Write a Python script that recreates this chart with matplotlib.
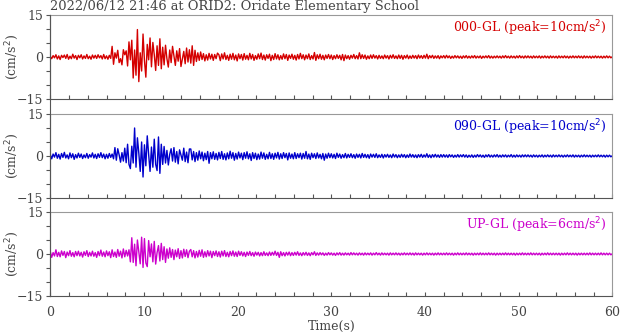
import numpy as np
import matplotlib
matplotlib.use("Agg")
from matplotlib import pyplot as plt
from matplotlib.lines import Line2D

plt.rcParams['font.family'] = ['DejaVu Serif']

dt = 0.15
title = "2022/06/12 21:46 at ORID2: Oridate Elementary School"
channels = ["000-GL", "090-GL", "UP-GL"]
peaks = [10, 10, 6]
colors = ["#d40000", "#0000cc", "#cc00cc"]
xticklabels = ["0", "10", "20", "30", "40", "50", "60"]

# acceleration (cm/s^2), every 0.15 s
ns_acc = [
    0.2, -0.6, 0.5, -0.3, 0.8, -0.7, 0.4, -0.9, 0.6, -0.2, 0.7, -0.5, 0.9, -0.8, 0.3, -0.6, 1.0, -0.4, 0.5, -0.9,
    0.6, -0.3, 0.8, -0.7, 0.4, -0.5, 0.9, -0.6, 0.3, -0.8, 0.7, -0.4, 0.6, -0.5, 0.8, -0.3, 0.5, -0.7, 0.9, -0.6,
    0.4, -0.8, 0.6, -0.5, 3.8, -2.6, 1.5, -0.4, 2.4, -2.0, -0.6, -2.8, 2.6, 0.8, 2.2, -3.2, 5.4, -1.0, 6.0, -7.5,
    2.5, -6.5, 9.8, -8.8, 1.5, -5.0, 8.2, -1.2, -7.2, 4.5, -1.0, 6.8, -3.5, 5.2, 0.8, -4.8, 4.0, -3.0, 6.5, -4.2,
    3.5, -2.8, 4.2, -0.6, -3.6, 2.5, -2.0, 3.8, 0.4, -3.0, 2.2, -1.5, 3.0, -3.4, -0.8, 2.0, -2.4, 3.2, -1.8, 2.6,
    -2.2, 4.0, -3.0, 2.4, -1.6, 1.5, -1.2, 1.8, -0.9, 1.2, -1.4, 0.8, -1.1, 1.3, -0.7, 1.0, -1.2, 0.9, -0.6, 1.4,
    0.8, -1.3, 1.1, -0.7, 1.5, -0.9, 0.6, -1.2, 1.0, -0.8, 1.3, -1.0, 0.7, -1.4, 1.1, -0.6, 0.9, -1.1, 1.2, -0.8,
    0.6, -1.0, 1.3, -0.7, 0.9, -1.2, 0.5, -0.8, 1.1, -0.6, 1.4, -0.9, 0.7, -1.1, 0.8, -0.5, 1.0, -1.3, 0.6, -0.9,
    1.2, -0.7, 0.8, -1.0, 0.5, -0.8, 1.1, -0.6, 0.9, -1.2, 0.7, -0.5, 1.0, -0.8, 0.6, -1.1, 0.9, -0.7, 1.3, -0.6,
    0.8, -1.0, 0.7, -0.6, 1.1, -0.9, 0.5, -0.7, 1.6, -1.2, 0.8, -0.6, 1.0, -0.8, 0.6, -1.0, 0.7, -0.5, 0.9, -0.6,
    0.7, -0.9, 0.5, -0.6, 0.8, -0.5, 0.6, -1.0, 0.9, -1.3, 0.7, -0.6, 0.5, -0.8, 0.6, -0.4, 0.9, -0.6, 0.5, -0.7,
    1.5, -0.6, 0.8, -0.5, 0.7, -0.8, 0.4, -0.6, 0.7, -0.5, 0.8, -0.4, 0.5, -0.7, 0.6, -0.5, 0.4, -0.6, 0.7, -0.4,
    0.5, -0.7, 0.6, -0.4, 0.8, -0.5, 0.4, -0.6, 0.7, -0.5, 0.6, -0.8, 0.5, -0.4, 0.7, -0.6, 0.4, -0.5, 0.6, -0.4,
    0.5, -0.6, 0.7, -0.4, 0.5, -0.5, 0.6, -0.4, 1.0, -0.6, 0.5, -0.3, 0.6, -0.5, 0.4, -0.4, 0.5, -0.6, 0.4, -0.3,
    0.5, -0.4, 0.6, -0.3, 0.4, -0.5, 0.3, -0.4, 0.5, -0.3, 0.4, -0.4, 0.3, -0.5, 0.4, -0.3, 0.5, -0.4, 0.3, -0.4,
    0.4, -0.3, 0.5, -0.4, 0.3, -0.3, 0.4, -0.5, 0.3, -0.3, 0.4, -0.3, 0.5, -0.4, 0.3, -0.4, 0.3, -0.3, 0.4, -0.3,
    0.3, -0.4, 0.4, -0.3, 0.5, -0.3, 0.3, -0.4, 0.4, -0.3, 0.3, -0.4, 0.4, -0.3, 0.5, -0.3, 0.3, -0.4, 0.4, -0.3,
    0.4, -0.3, 0.3, -0.4, 0.4, -0.3, 0.3, -0.3, 0.4, -0.4, 0.3, -0.3, 0.4, -0.3, 0.3, -0.4, 0.4, -0.3, 0.3, -0.3,
    0.3, -0.4, 0.4, -0.3, 0.3, -0.3, 0.4, -0.3, 0.3, -0.4, 0.3, -0.3, 0.4, -0.3, 0.3, -0.3, 0.4, -0.3, 0.3, -0.4,
    0.4, -0.3, 0.3, -0.3, 0.3, -0.4, 0.3, -0.3, 0.4, -0.3, 0.3, -0.3, 0.3, -0.4, 0.3, -0.3, 0.4, -0.3, 0.3, -0.3,
    0.1,
]
ew_acc = [
    0.5, -1.0, 0.7, -0.4, 1.2, -0.8, 0.6, -1.1, 0.9, -0.5, 1.3, -0.7, 0.4, -1.0, 1.1, -0.6, 0.8, -1.2, 0.5, -0.7,
    1.0, -0.5, 0.7, -0.9, 0.4, -0.6, 0.9, -0.8, 0.5, -0.4, 1.1, -0.7, 0.6, -0.9, 0.8, -0.5, 1.2, -0.6, 0.7, -1.0,
    0.6, -0.8, 0.9, -0.5, 0.7, -1.0, 3.0, -1.5, 2.6, 0.4, -2.2, 1.2, -1.8, 2.8, -2.4, 4.2, -3.0, -4.5, 3.5, -2.5,
    10.0, -4.0, 6.5, 1.0, -5.5, 5.0, -7.5, 4.0, -3.5, 7.2, 0.5, -5.5, 3.2, -4.0, 6.0, -3.0, -5.2, 6.8, -6.2, 4.2,
    -3.0, 3.4, -2.5, 2.0, -3.2, 0.6, 2.6, -1.8, 3.0, -2.2, 1.6, -2.8, 2.2, 0.3, -1.5, 2.8, -2.0, 1.4, -2.4, 2.5,
    2.5, -1.4, 1.6, -2.0, 1.2, -1.5, 1.8, -1.0, 1.4, -1.7, 1.0, -1.3, 1.6, -2.6, 1.2, -1.0, 1.5, -1.2, 0.9, -1.4,
    1.3, -0.9, 1.6, -1.2, 0.8, -1.4, 1.1, -1.0, 1.7, -0.8, 1.2, -1.5, 0.9, -1.1, 1.4, -0.7, 1.0, -1.3, 1.2, -0.8,
    1.5, -1.0, 0.8, -1.6, 1.2, -0.9, 1.0, -1.3, 0.7, -1.1, 1.4, -0.8, 1.1, -1.2, 0.6, -1.0, 1.3, -0.9, 0.8, -1.2,
    1.0, -0.7, 1.3, -1.1, 0.8, -0.9, 1.2, -0.6, 0.9, -1.4, 1.1, -0.8, 0.7, -1.0, 1.2, -0.9, 0.8, -0.6, 1.0, -1.1,
    0.9, -0.8, 1.6, -1.0, 0.7, -1.2, 1.0, -0.6, 0.8, -0.9, 1.1, -0.7, 0.6, -1.0, 0.9, -1.5, 0.7, -0.8, 1.0, -0.6,
    0.8, -0.7, 0.6, -0.9, 1.0, -0.5, 0.7, -0.8, 0.5, -0.6, 0.9, -0.7, 0.6, -0.5, 0.8, -0.6, 0.5, -0.8, 0.7, -0.5,
    0.6, -0.7, 0.9, -0.5, 0.6, -0.6, 0.5, -0.8, 0.7, -0.4, 0.6, -0.5, 0.8, -0.6, 0.4, -0.5, 0.6, -0.7, 0.5, -0.4,
    0.6, -0.5, 0.4, -0.6, 0.7, -0.4, 0.5, -0.6, 0.4, -0.5, 0.6, -0.4, 0.5, -0.6, 0.4, -0.5, 0.7, -0.4, 0.5, -0.5,
    0.4, -0.6, 0.5, -0.4, 0.6, -0.5, 0.4, -0.4, 0.8, -0.5, 0.4, -0.6, 0.5, -0.4, 0.6, -0.4, 0.4, -0.5, 0.5, -0.4,
    0.5, -0.4, 0.4, -0.5, 0.5, -0.3, 0.4, -0.5, 0.3, -0.4, 0.5, -0.4, 0.4, -0.3, 0.5, -0.4, 0.4, -0.5, 0.3, -0.4,
    0.4, -0.5, 0.3, -0.4, 0.5, -0.3, 0.4, -0.4, 0.3, -0.5, 0.4, -0.3, 0.5, -0.4, 0.3, -0.4, 0.4, -0.3, 0.5, -0.4,
    0.3, -0.4, 0.4, -0.3, 0.4, -0.4, 0.3, -0.3, 0.5, -0.4, 0.3, -0.4, 0.4, -0.3, 0.3, -0.4, 0.4, -0.3, 0.4, -0.3,
    0.4, -0.3, 0.3, -0.4, 0.4, -0.3, 0.3, -0.4, 0.3, -0.3, 0.4, -0.4, 0.3, -0.3, 0.4, -0.3, 0.3, -0.4, 0.4, -0.3,
    0.3, -0.3, 0.4, -0.3, 0.3, -0.4, 0.3, -0.3, 0.4, -0.3, 0.3, -0.3, 0.4, -0.4, 0.3, -0.3, 0.3, -0.4, 0.3, -0.3,
    0.4, -0.3, 0.3, -0.3, 0.3, -0.4, 0.3, -0.3, 0.3, -0.3, 0.4, -0.3, 0.3, -0.3, 0.3, -0.4, 0.3, -0.3, 0.3, -0.3,
    0.1,
]
ud_acc = [
    0.8, -1.2, 0.5, -0.7, 1.5, -0.9, 0.6, -1.0, 1.1, -0.5, 0.9, -1.3, 0.7, -0.6, 1.2, -0.8, 0.5, -1.0, 0.9, -0.6,
    1.0, -0.7, 0.6, -1.1, 0.8, -0.5, 1.2, -0.9, 0.6, -0.7, 1.0, -0.8, 0.5, -1.2, 0.9, -0.6, 1.4, -0.8, 0.7, -1.0,
    1.1, -0.6, 0.8, -1.3, 1.5, -0.9, 0.7, -1.2, 1.6, -0.8, 1.0, -1.4, 1.8, -1.0, 1.3, -0.7, 1.5, -2.8, 5.8, -3.0,
    3.5, -4.2, 5.0, 0.8, -3.5, 6.0, -4.8, 5.5, -3.2, -4.5, 4.8, -1.0, 3.6, -2.8, 4.5, -3.6, 0.5, 3.0, -2.5, 3.8,
    -2.0, 2.6, -3.0, 1.8, -1.5, 2.2, -1.2, 1.6, -2.0, 1.4, -1.0, 1.9, -1.6, 1.2, -1.4, 1.7, -0.9, 1.5, -1.3, 1.0,
    1.6, -1.0, 1.2, -1.4, 0.9, -1.1, 1.3, -0.8, 1.5, -1.2, 0.8, -1.0, 1.2, -0.7, 1.0, -1.3, 0.9, -0.6, 1.1, -0.9,
    0.8, -1.1, 1.0, -0.7, 1.2, -0.9, 0.6, -1.0, 0.9, -0.6, 1.1, -0.8, 0.7, -0.9, 1.0, -0.5, 0.8, -0.7, 0.6, -0.9,
    0.7, -0.5, 0.9, -0.6, 0.5, -0.8, 0.7, -0.4, 0.6, -0.7, 0.5, -0.6, 0.8, -0.5, 0.4, -0.6, 0.7, -0.5, 0.6, -0.4,
    1.0, -0.5, 0.6, -1.2, 0.8, -0.6, 0.5, -0.7, 0.6, -0.4, 0.7, -0.6, 0.5, -0.5, 0.6, -0.4, 0.8, -0.5, 0.4, -0.6,
    0.5, -0.4, 0.6, -0.5, 0.4, -0.6, 0.5, -0.3, 0.8, -0.5, 0.4, -0.4, 0.5, -0.3, 0.4, -0.5, 0.3, -0.4, 0.5, -0.3,
    0.4, -0.4, 0.3, -0.5, 0.4, -0.3, 0.5, -0.4, 0.3, -0.4, 0.4, -0.3, 0.3, -0.4, 0.5, -0.3, 0.4, -0.3, 0.3, -0.4,
    0.4, -0.3, 0.3, -0.4, 0.4, -0.3, 0.3, -0.3, 0.4, -0.4, 0.3, -0.3, 0.5, -0.3, 0.3, -0.4, 0.4, -0.3, 0.3, -0.3,
    0.3, -0.4, 0.4, -0.3, 0.3, -0.3, 0.4, -0.3, 0.3, -0.4, 0.3, -0.3, 0.4, -0.3, 0.3, -0.3, 0.4, -0.3, 0.3, -0.4,
    0.4, -0.3, 0.3, -0.3, 0.3, -0.4, 0.3, -0.3, 0.4, -0.3, 0.3, -0.3, 0.3, -0.4, 0.3, -0.3, 0.4, -0.3, 0.3, -0.3,
    0.3, -0.3, 0.4, -0.3, 0.3, -0.3, 0.3, -0.4, 0.3, -0.3, 0.4, -0.3, 0.3, -0.3, 0.3, -0.3, 0.4, -0.3, 0.3, -0.3,
    0.3, -0.4, 0.3, -0.3, 0.3, -0.3, 0.4, -0.3, 0.3, -0.3, 0.3, -0.3, 0.4, -0.3, 0.3, -0.3, 0.3, -0.4, 0.3, -0.3,
    0.3, -0.3, 0.3, -0.3, 0.4, -0.3, 0.3, -0.3, 0.3, -0.3, 0.3, -0.4, 0.3, -0.3, 0.3, -0.3, 0.4, -0.3, 0.3, -0.3,
    0.3, -0.3, 0.4, -0.3, 0.3, -0.3, 0.3, -0.3, 0.3, -0.4, 0.3, -0.3, 0.3, -0.3, 0.4, -0.3, 0.3, -0.3, 0.3, -0.3,
    0.3, -0.3, 0.3, -0.4, 0.3, -0.3, 0.3, -0.3, 0.4, -0.3, 0.3, -0.3, 0.3, -0.3, 0.3, -0.4, 0.3, -0.3, 0.3, -0.3,
    0.3, -0.3, 0.3, -0.3, 0.4, -0.3, 0.3, -0.3, 0.3, -0.3, 0.3, -0.3, 0.4, -0.3, 0.3, -0.3, 0.3, -0.3, 0.3, -0.3,
    0.1,
]
traces = [ns_acc, ew_acc, ud_acc]

textc = "#444444"
dark = "#555555"
light = "#999999"

fig = plt.figure(figsize=(6.2, 3.34), dpi=100)
left, width = 50.3 / 620, 562 / 620
tops = [15, 114, 212]   # px from top
h = 84

axes = []
for i in range(3):
    ax = fig.add_axes([left, 1 - (tops[i] + h) / 334, width, h / 334])
    acc = np.array(traces[i])
    t = np.arange(len(acc)) * dt
    ax.plot(t, acc, color=colors[i], lw=1.0)
    ax.set_xlim(0, 60)
    ax.set_ylim(-15, 15)
    ax.set_yticks([-15, 0, 15])
    ax.set_yticks([-10, -5, 5, 10], minor=True)
    ax.set_xticks(np.arange(0, 61, 10))
    ax.set_xticks(np.arange(0, 61, 2), minor=True)
    ax.tick_params(axis='y', which='both', direction='out', length=3, width=0.8,
                   color=dark, labelcolor=textc, labelsize=9, pad=2)
    ax.tick_params(axis='x', which='both', direction='in', length=3, width=0.8,
                   color=dark, labelcolor=textc, labelsize=9, pad=7)
    for s in ['top', 'right']:
        ax.spines[s].set_color(light)
        ax.spines[s].set_linewidth(0.8)
    ax.spines['bottom'].set_color(dark)
    ax.spines['left'].set_color(dark)
    ax.spines['bottom'].set_linewidth(0.8)
    ax.spines['left'].set_linewidth(0.8)
    if i < 2:
        ax.set_xticklabels([])
    else:
        ax.set_xticklabels(xticklabels)
        ax.set_xlabel("Time(s)", color=textc, fontsize=9, labelpad=1)
    ax.set_ylabel("(cm/s$^2$)", color=textc, fontsize=9)
    ax.yaxis.set_label_coords(-0.053, 0.5)
    ax.text(0.99, 0.965, "%s (peak=%dcm/s$^2$)" % (channels[i], peaks[i]),
            transform=ax.transAxes, ha='right', va='top', color=colors[i], fontsize=9)
    axes.append(ax)

# continuous left frame line through the gaps
fig.add_artist(Line2D([left, left], [1 - 15 / 334, 1 - 296 / 334], color=dark, lw=0.8))

fig.text(left, 1 - 10 / 334, title, ha='left', va='baseline', color=textc, fontsize=9.4)

fig.savefig("out.png", dpi=100)
